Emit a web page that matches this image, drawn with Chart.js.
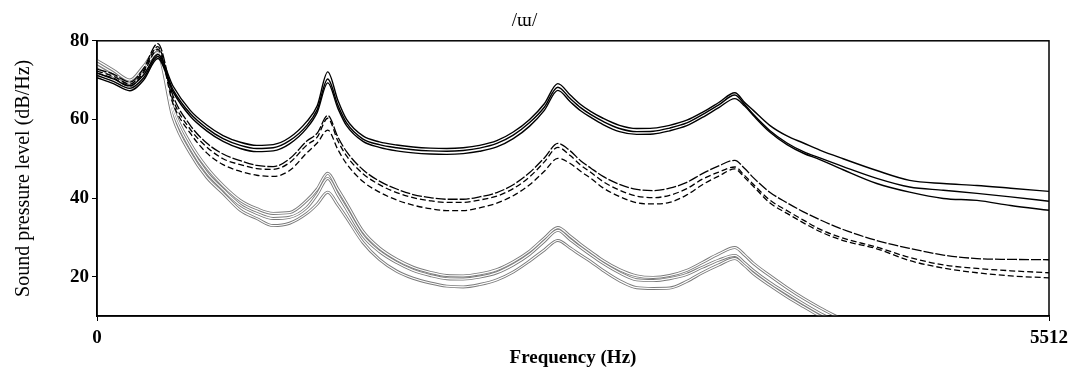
<!DOCTYPE html>
<html lang="en">
<head>
  <meta charset="UTF-8" />
  <title>/ɯ/ spectrum</title>
  <script src="https://cdn.jsdelivr.net/npm/chart.js"></script>
  <style>
    body {
      margin: 0;
      background: #fff;
    }
    canvas {
      display: block;
    }
  </style>
</head>
<body>
  <canvas id="spectrum" width="1078" height="376"></canvas>

  <script>
    // frequency grid (Hz) shared by all curves
    const freqs = [0, 95, 190, 270, 352, 440, 540, 635, 730, 830, 925, 1020, 1115, 1215, 1275, 1336,
      1395, 1445, 1540, 1635, 1735, 1830, 1930, 2025, 2120, 2215, 2315, 2410, 2505, 2590, 2668,
      2740, 2800, 2860, 2930, 3025, 3125, 3220, 3315, 3415, 3505, 3600, 3693, 3750, 3800, 3895,
      3995, 4090, 4185, 4320, 4515, 4705, 4900, 5095, 5290, 5512];

    // solid black curves (dB/Hz)
    const solid1 = [71.8, 70.3, 68.6, 71.3, 76.5, 68.5, 62.3, 58.6, 55.9, 54.2, 53.4, 53.6, 55.4, 59.5, 63.5, 72.1,
      64.8, 60, 55.8, 54.3, 53.5, 53, 52.7, 52.6, 52.8, 53.4, 54.6, 56.8, 60, 64, 69.1,
      66.2, 63.8, 62, 60.3, 58.5, 57.7, 57.8, 58.5, 59.8, 61.8, 64.3, 66.8, 64.3, 62.3, 58.5,
      55.8, 54, 52.2, 50, 47, 44.5, 43.7, 43.2, 42.5, 41.7];
    const solid2 = [71.2, 69.7, 67.9, 70.6, 76, 67.6, 61.5, 57.8, 55.1, 53.4, 52.6, 52.8, 54.6, 58.5, 62.5, 70.3,
      63.6, 59.1, 55, 53.6, 52.8, 52.3, 52, 51.9, 52.1, 52.7, 53.9, 56, 59.2, 63.1, 68.2,
      65.3, 63, 61.2, 59.5, 57.7, 56.9, 57, 57.8, 59.1, 61.2, 63.7, 66.2, 63.8, 61.3, 57.2,
      54, 51.8, 50.2, 48, 45, 42.8, 42, 41.2, 40.3, 39.2];
    const solid3 = [70.6, 69.1, 67.3, 70, 75.5, 67, 60.8, 57.1, 54.4, 52.6, 51.8, 52, 53.8, 57.8, 61.8, 69.3,
      62.8, 58.4, 54.4, 52.9, 52, 51.5, 51.2, 51.1, 51.3, 51.9, 53, 55.1, 58.3, 62.3, 67.4,
      64.5, 62.2, 60.5, 58.7, 56.9, 56.2, 56.3, 57.1, 58.4, 60.5, 63, 65.3, 63.4, 61, 56.8,
      53.6, 51.4, 49.8, 47.2, 43.7, 41.5, 39.9, 39.4, 38.1, 36.9];

    // dashed curves
    const dashed1 = [72.8, 71.5, 69.5, 73, 79.3, 66, 58.5, 54, 51.2, 49.5, 48.3, 48, 50, 54.5, 56.5, 61,
      55.5, 51.8, 47.2, 44.3, 42.3, 40.9, 40.1, 39.7, 39.7, 40.3, 41.4, 43.4, 46.5, 50.2, 53.9,
      52, 49.5, 47.6, 45.5, 43.5, 42.2, 41.9, 42.5, 44, 46.2, 48.2, 49.6, 47.5, 45.2, 41.5,
      38.8, 36.5, 34.5, 32, 29.2, 27.2, 25.5, 24.6, 24.4, 24.3];
    const dashed2 = [72.3, 71, 69, 72.5, 78.5, 65, 57.5, 53, 50, 48.5, 47.5, 47.3, 49, 53.5, 55.5, 60.3,
      54.5, 50.7, 46.2, 43.4, 41.4, 40.1, 39.3, 38.9, 38.9, 39.5, 40.5, 42.4, 45.4, 49.2, 52.9,
      50.8, 48.4, 46.5, 44.2, 42, 40.5, 40.1, 40.7, 42.4, 44.8, 46.6, 47.9, 45.7, 43.5, 39.5,
      36.8, 34.4, 32.1, 29.8, 27.5, 24.9, 23, 22.1, 21.5, 21];
    const dashed3 = [71.8, 70.5, 68.5, 72, 77.8, 64, 56.5, 51.5, 48.5, 46.8, 45.8, 45.5, 47, 51.5, 54, 57.3,
      52.3, 48.7, 44.2, 41.5, 39.5, 38.2, 37.3, 36.8, 36.8, 37.5, 38.7, 40.6, 43.4, 46.8, 50.1,
      48.8, 46.8, 45, 42.6, 40.4, 38.8, 38.5, 38.9, 40.8, 43.4, 45.6, 47.4, 45.2, 43, 38.8,
      36.1, 33.7, 31.5, 29.2, 27.1, 24.1, 22.2, 21, 20.2, 19.7];

    // grey (outlined) curves, they leave the plot near 4.3 kHz
    const grey1 = [75, 72.5, 70, 73.5, 77.8, 63, 53.9, 47.8, 43.2, 39.4, 37.3, 36.1, 36.3, 39.4, 42.3, 46.3,
      42.2, 38.6, 31.5, 27.3, 24.4, 22.4, 21.1, 20.3, 20.2, 20.7, 21.8, 23.8, 26.5, 29.8, 32.5,
      30.3, 28.2, 26.3, 24.1, 21.8, 20.2, 19.8, 20.3, 21.6, 23.6, 25.8, 27.4, 25.5, 23.4, 20.3,
      17.2, 14.5, 12.1, 9];
    const grey2 = [74.3, 71.8, 69.2, 72.8, 77, 62, 52.8, 46.5, 42.2, 38.2, 36.1, 34.8, 35.1, 37.6, 41, 45,
      40.8, 37.2, 30.4, 26.4, 23.6, 21.6, 20.3, 19.5, 19.4, 19.9, 21, 23, 25.7, 29, 31.8,
      29.4, 27.4, 25.5, 23.4, 21, 19.2, 19, 19.5, 20.6, 22.4, 24.2, 25.4, 23.5, 21.6, 18.5,
      15.7, 13.1, 10.7, 7.8];
    const grey3 = [73.5, 71, 68.5, 72, 76.3, 60.5, 51.4, 45.3, 41.2, 36.9, 34.8, 33, 33.6, 36.1, 38.5, 41.5,
      38.2, 35, 28.7, 24.4, 21.4, 19.6, 18.4, 17.6, 17.4, 18, 19.2, 21.2, 24, 26.8, 29.2,
      27.3, 25.5, 23.8, 21.6, 19, 17.2, 17, 17.1, 18.8, 21, 23, 24.6, 22.8, 20.8, 17.8,
      14.9, 12.4, 10, 7.2];

    const xTicks = [0, 5512];
    const yTicks = [20, 40, 60, 80];

    const serif = "'Liberation Serif', 'DejaVu Serif', serif";

    function pts(vals) {
      return vals.map((v, i) => ({ x: freqs[i], y: v }));
    }

    function line(vals, color, width, dash, order) {
      return {
        data: pts(vals),
        borderColor: color,
        borderWidth: width,
        borderDash: dash,
        pointRadius: 0,
        fill: false,
        cubicInterpolationMode: 'monotone',
        order: order
      };
    }

    const datasets = [];
    [solid1, solid2, solid3].forEach(v => datasets.push(line(v, '#000', 1.4, [], 1)));
    datasets.push(line(dashed1, '#000', 1.3, [10, 2], 2));
    [dashed2, dashed3].forEach(v => datasets.push(line(v, '#000', 1.3, [6, 3], 2)));
    // grey outline then white core on top gives the hollow look
    [grey1, grey2, grey3].forEach(v => {
      datasets.push(line(v, '#7a7a7a', 3, [], 4));
      datasets.push(line(v, '#fff', 1.2, [], 3));
    });

    const frameBox = {
      id: 'frameBox',
      afterDraw(chart) {
        const a = chart.chartArea;
        const ctx = chart.ctx;
        ctx.save();
        ctx.strokeStyle = '#000';
        ctx.lineWidth = 1.5;
        ctx.strokeRect(a.left, a.top, a.right - a.left, a.bottom - a.top);
        ctx.restore();
      }
    };

    new Chart(document.getElementById('spectrum'), {
      type: 'line',
      data: { datasets },
      plugins: [frameBox],
      options: {
        responsive: false,
        animation: false,
        layout: { padding: { left: 0, right: 29, top: 0, bottom: 0 } },
        plugins: {
          legend: { display: false },
          tooltip: { enabled: false },
          title: {
            display: true,
            text: '/ɯ/',
            color: '#000',
            font: { family: serif, size: 19, weight: 'normal' },
            padding: { top: 10, bottom: 8 }
          }
        },
        scales: {
          x: {
            type: 'linear',
            min: 0,
            max: 5512,
            afterBuildTicks: s => { s.ticks = xTicks.map(v => ({ value: v })); },
            afterFit: s => { s.height = 60; },
            grid: { drawOnChartArea: false, drawTicks: true, tickLength: 5, color: '#000' },
            border: { display: true, color: '#000', width: 1.5 },
            ticks: {
              color: '#000',
              padding: 6,
              maxRotation: 0,
              callback: v => String(v),
              font: { family: serif, size: 19, weight: 'bold' }
            },
            title: {
              display: true,
              text: 'Frequency (Hz)',
              color: '#000',
              font: { family: serif, size: 19, weight: 'bold' },
              padding: { top: 0, bottom: 7 }
            }
          },
          y: {
            min: 10,
            max: 80,
            afterBuildTicks: s => { s.ticks = yTicks.map(v => ({ value: v })); },
            afterFit: s => { s.width = 97; },
            grid: { drawOnChartArea: false, drawTicks: true, tickLength: 5, color: '#000' },
            border: { display: true, color: '#000', width: 1.5 },
            ticks: {
              color: '#000',
              padding: 3,
              callback: v => String(v),
              font: { family: serif, size: 19, weight: 'bold' }
            },
            title: {
              display: true,
              text: 'Sound pressure level (dB/Hz)',
              color: '#000',
              font: { family: serif, size: 20, weight: 'normal' },
              padding: { top: 12, bottom: 0 }
            }
          }
        }
      }
    });
  </script>
</body>
</html>
